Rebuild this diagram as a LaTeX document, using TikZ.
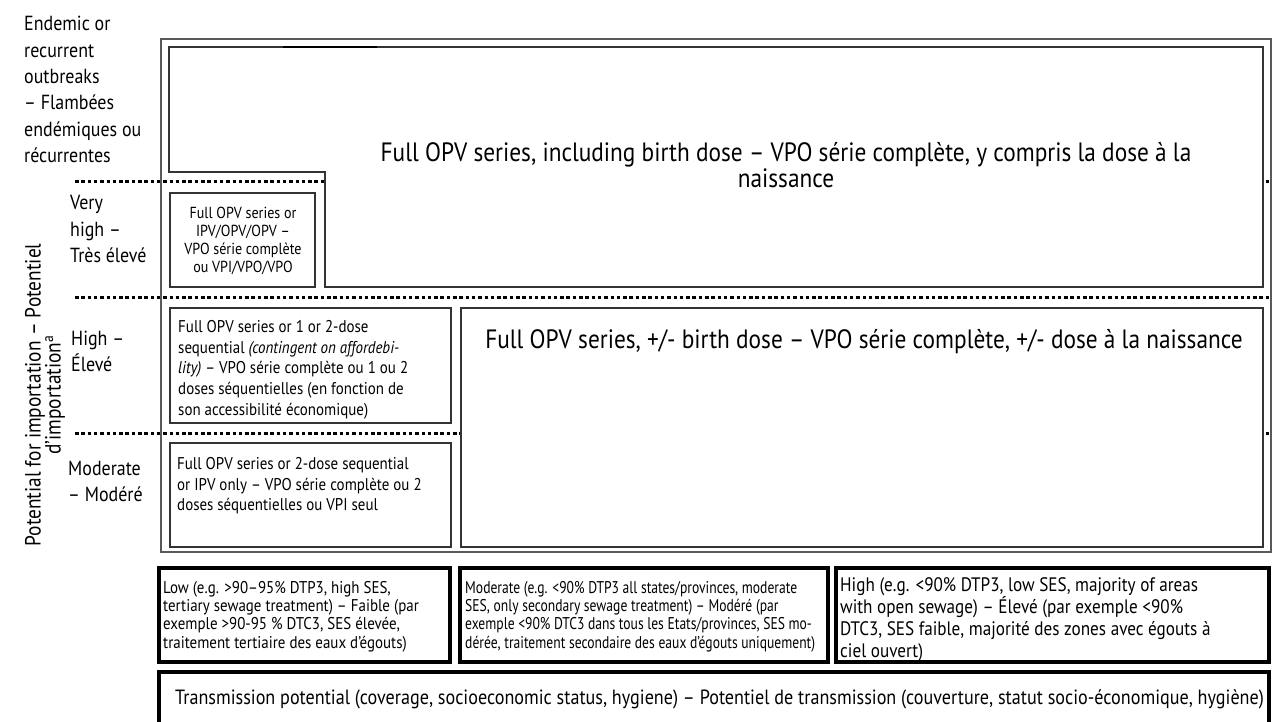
\documentclass[tikz,border=0pt]{standalone}
\usepackage{fontspec}
\setmainfont{PT Sans}[FakeStretch=0.88]
\newfontfamily\condfont{PT Sans}[FakeStretch=0.80]
\begin{document}
\begin{tikzpicture}[x=1pt,y=-1pt,
  thinbox/.style={draw=black!80, line width=1.3pt, fill=white},
  framebox/.style={draw=black!65, line width=1.1pt},
  thickbox/.style={draw=black, line width=4pt, fill=white},
  dotline/.style={draw=black, line width=3pt, dash pattern=on 3.5pt off 2.8pt},
  lbl/.style={inner sep=0pt, align=left, font=\fontsize{20.4}{26.4}\selectfont},
  bigtxt/.style={inner sep=0pt, align=center, font=\fontsize{26.5}{26}\selectfont},
  boxtxt/.style={inner sep=0pt, align=left, font=\fontsize{17}{20.8}\selectfont},
  bottxt/.style={inner sep=0pt, align=left, font=\fontsize{17}{18.3}\selectfont},
]
\useasboundingbox (0,0) rectangle (1272,722);
% dotted level separators
\draw[dotline] (75,182) -- (1272,182);
\draw[dotline] (75,297) -- (1272,297);
\draw[dotline] (75,433) -- (1272,433);
% outer frame
\draw[framebox] (161,39) rectangle (1271,552);
% L-shaped top box
\draw[thinbox] (169,47) -- (1263,47) -- (1263,287) -- (325,287) -- (325,172) -- (169,172) -- cycle;
\draw[line width=2.4pt] (283,47) -- (377,47);
% inner boxes
\draw[thinbox] (170,193) rectangle (315,287);
\draw[thinbox] (170,308) rectangle (451,423);
\draw[thinbox] (170,443) rectangle (451,547);
\draw[thinbox] (461,308) rectangle (1263,547);
% bottom boxes
\draw[thickbox] (159,568) rectangle (450,662);
\draw[thickbox] (460,568) rectangle (828,662);
\draw[thickbox] (836,568) rectangle (1269,662);
\draw[thickbox] (159,672) rectangle (1269,745);
% left labels
\node[lbl, anchor=north west] (endemic) at (24,16) {Endemic or\\recurrent\\outbreaks\\– Flambées\\endémiques ou\\récurrentes};
\node[lbl, anchor=north west] (vhigh) at (70,195.5) {Very\\high –\\Très élevé};
\node[lbl, anchor=north west] (high) at (71,330.5) {High –\\Élevé};
\node[lbl, anchor=north west] (moder) at (68,461) {Moderate\\– Modéré};
\node[inner sep=0pt, rotate=90, align=center, font=\fontsize{22}{20}\selectfont] (vlab) at (45,395) {Potential for importation – Potentiel\\d’importation\textsuperscript{a}};
% big texts
\node[bigtxt, anchor=north] (bt1) at (786,142) {Full OPV series, including birth dose – VPO série complète, y compris la dose à la\\naissance};
\node[bigtxt, anchor=north] (bt2) at (864,329) {Full OPV series, +/- birth dose – VPO série complète, +/- dose à la naissance};
% small box texts
\node[inner sep=0pt, align=center, anchor=north, font=\fontsize{16}{18.3}\selectfont] (vht) at (243,206.5) {Full OPV series or\\IPV/OPV/OPV –\\VPO série complète\\ou VPI/VPO/VPO};
\node[boxtxt, anchor=north west] (hit) at (178,320) {Full OPV series or 1 or 2-dose\\sequential \textit{(contingent on affordebi-}\\\textit{lity)} – VPO série complète ou 1 ou 2\\doses séquentielles (en fonction de\\son accessibilité économique)};
\node[boxtxt, anchor=north west] (mot) at (177,457) {Full OPV series or 2-dose sequential\\or IPV only – VPO série complète ou 2\\doses séquentielles ou VPI seul};
% bottom texts
\node[bottxt, anchor=north west] (lowt) at (163,581) {Low (e.g. >90–95\% DTP3, high SES,\\tertiary sewage treatment) – Faible (par\\exemple >90-95 \% DTC3, SES élevée,\\traitement tertiaire des eaux d’égouts)};
\node[bottxt, anchor=north west, font=\condfont\fontsize{17}{18.3}\selectfont] (modt) at (465,581) {Moderate (e.g. <90\% DTP3 all states/provinces, moderate\\SES, only secondary sewage treatment) – Modéré (par\\exemple <90\% DTC3 dans tous les Etats/provinces, SES mo-\\dérée, traitement secondaire des eaux d’égouts uniquement)};
\node[bottxt, anchor=north west, font=\fontsize{19.5}{21.8}\selectfont] (hight) at (840,577.5) {High (e.g. <90\% DTP3, low SES, majority of areas\\with open sewage) – Élevé (par exemple <90\%\\DTC3, SES faible, majorité des zones avec égouts à\\ciel ouvert)};
\node[inner sep=0pt, anchor=base west, font=\fontsize{20.6}{22}\selectfont] (trans) at (175,704) {Transmission potential (coverage, socioeconomic status, hygiene) – Potentiel de transmission (couverture, statut socio-économique, hygiène)};
\end{tikzpicture}
\end{document}
